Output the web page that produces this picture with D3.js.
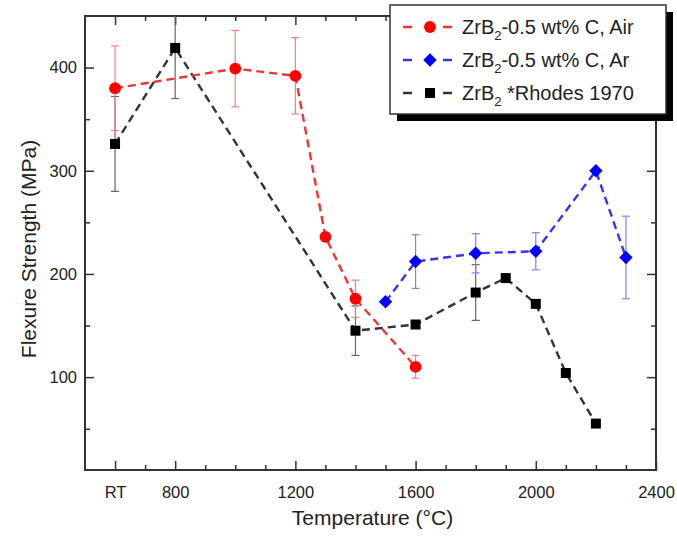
<!DOCTYPE html>
<html>
<head>
<meta charset="utf-8">
<script src="https://cdn.jsdelivr.net/npm/d3@7"></script>
<style>
  body { margin: 0; background: #fff; }
  text { font-family: "Liberation Sans", Arial, sans-serif; fill: #222; }
</style>
</head>
<body>
<script>
// data (RT plotted at 600)
const tempAir = [600, 1000, 1200, 1300, 1400, 1600];
const strAir = [380, 399, 392, 236, 176, 110];
const errAir = [41, 37, 37, 0, 18, 11];

const tempAr = [1500, 1600, 1800, 2000, 2200, 2300];
const strAr = [173, 212, 220, 222, 300, 216];
const errAr = [0, 26, 19, 18, 0, 40];

const tempRh = [600, 800, 1400, 1600, 1800, 1900, 2000, 2100, 2200];
const strRh = [326, 419, 145, 151, 182, 196, 171, 104, 55];
const errRh = [46, 49, 24, 0, 27, 0, 0, 0, 0];

const xMajor = [600, 800, 1200, 1600, 2000, 2400];
const xMinor = [700, 900, 1000, 1100, 1300, 1400, 1500, 1700, 1800, 1900, 2100, 2200, 2300];
const yMajor = [100, 200, 300, 400];
const yMinor = [50, 150, 250, 350];

const width = 677;
const height = 537;
const pLeft = 85, pRight = 656, pTop = 16, pBottom = 470;

const x = d3.scaleLinear().domain([500, 2400]).range([pLeft, pRight]);
const y = d3.scaleLinear().domain([10, 450]).range([pBottom, pTop]);

const svg = d3.select("body").append("svg")
    .attr("width", width)
    .attr("height", height);

svg.append("clipPath").attr("id", "plot")
  .append("rect")
    .attr("x", pLeft).attr("y", pTop)
    .attr("width", pRight - pLeft).attr("height", pBottom - pTop);

// axes: ticks point inward on all four sides
function styleAxis(g) {
    g.select(".domain").remove();
    g.selectAll(".tick line").attr("stroke", "#333").attr("stroke-width", 1.5);
    g.selectAll(".tick text").style("font-size", "16.5px").attr("fill", "#222");
}

svg.append("g")
    .attr("transform", "translate(0," + pBottom + ")")
    .call(d3.axisBottom(x).tickValues(xMajor).tickSizeInner(-9).tickSizeOuter(0).tickPadding(16)
        .tickFormat(d => d === 600 ? "RT" : d))
    .call(styleAxis);
svg.append("g")
    .attr("transform", "translate(0," + pBottom + ")")
    .call(d3.axisBottom(x).tickValues(xMinor).tickSize(-5).tickFormat(""))
    .call(styleAxis);
svg.append("g")
    .attr("transform", "translate(0," + pTop + ")")
    .call(d3.axisTop(x).tickValues(xMajor).tickSize(-9).tickFormat(""))
    .call(styleAxis);
svg.append("g")
    .attr("transform", "translate(0," + pTop + ")")
    .call(d3.axisTop(x).tickValues(xMinor).tickSize(-5).tickFormat(""))
    .call(styleAxis);

svg.append("g")
    .attr("transform", "translate(" + pLeft + ",0)")
    .call(d3.axisLeft(y).tickValues(yMajor).tickSizeInner(-9).tickSizeOuter(0).tickPadding(8))
    .call(styleAxis);
svg.append("g")
    .attr("transform", "translate(" + pLeft + ",0)")
    .call(d3.axisLeft(y).tickValues(yMinor).tickSize(-5).tickFormat(""))
    .call(styleAxis);
svg.append("g")
    .attr("transform", "translate(" + pRight + ",0)")
    .call(d3.axisRight(y).tickValues(yMajor).tickSize(-9).tickFormat(""))
    .call(styleAxis);
svg.append("g")
    .attr("transform", "translate(" + pRight + ",0)")
    .call(d3.axisRight(y).tickValues(yMinor).tickSize(-5).tickFormat(""))
    .call(styleAxis);

// frame
svg.append("rect")
    .attr("x", pLeft).attr("y", pTop)
    .attr("width", pRight - pLeft).attr("height", pBottom - pTop)
    .attr("fill", "none")
    .attr("stroke", "#333")
    .attr("stroke-width", 2);

// axis titles
svg.append("text")
    .attr("x", (pLeft + pRight) / 2 + 2)
    .attr("y", 525)
    .attr("text-anchor", "middle")
    .style("font-size", "21px")
    .text("Temperature (°C)");

svg.append("text")
    .attr("transform", "translate(36," + ((pTop + pBottom) / 2 + 6) + ") rotate(-90)")
    .attr("text-anchor", "middle")
    .style("font-size", "21px")
    .text("Flexure Strength (MPa)");

// series (diamond = square turned 45 degrees)
const series = [
    { t: tempRh, v: strRh, e: errRh, line: "#333", bar: "#666", fill: "#000", shape: d3.symbolSquare, size: 100, rot: 0 },
    { t: tempAir, v: strAir, e: errAir, line: "#f03535", bar: "#f08080", fill: "#ff0000", shape: d3.symbolCircle, size: 110, rot: 0 },
    { t: tempAr, v: strAr, e: errAr, line: "#3535f0", bar: "#8080f0", fill: "#0000ff", shape: d3.symbolSquare, size: 90, rot: 45 }
];

const plot = svg.append("g").attr("clip-path", "url(#plot)");

series.forEach(s => {
    const pts = s.t.map((t, i) => ({ t: t, v: s.v[i], e: s.e[i] }));
    const g = plot.append("g");

    g.append("path")
        .datum(pts)
        .attr("fill", "none")
        .attr("stroke", s.line)
        .attr("stroke-width", 2.4)
        .attr("stroke-dasharray", "8,5")
        .attr("d", d3.line().x(d => x(d.t)).y(d => y(d.v)));

    const bars = g.selectAll(".err")
        .data(pts.filter(d => d.e > 0))
        .enter().append("g")
        .attr("stroke", s.bar)
        .attr("stroke-width", 1.2);
    bars.append("line")
        .attr("x1", d => x(d.t)).attr("x2", d => x(d.t))
        .attr("y1", d => y(d.v - d.e)).attr("y2", d => y(d.v + d.e));
    bars.append("line")
        .attr("x1", d => x(d.t) - 4).attr("x2", d => x(d.t) + 4)
        .attr("y1", d => y(d.v + d.e)).attr("y2", d => y(d.v + d.e));
    bars.append("line")
        .attr("x1", d => x(d.t) - 4).attr("x2", d => x(d.t) + 4)
        .attr("y1", d => y(d.v - d.e)).attr("y2", d => y(d.v - d.e));

    g.selectAll(".mark")
        .data(pts)
        .enter().append("path")
        .attr("transform", d => "translate(" + x(d.t) + "," + y(d.v) + ") rotate(" + s.rot + ")")
        .attr("d", d3.symbol().type(s.shape).size(s.size))
        .attr("fill", s.fill);
});

// legend
const legendItems = [
    { label: ["ZrB", "2", "-0.5 wt% C, Air"], s: series[1] },
    { label: ["ZrB", "2", "-0.5 wt% C, Ar"], s: series[2] },
    { label: ["ZrB", "2", " *Rhodes 1970"], s: series[0] }
];

const legend = svg.append("g");
legend.append("rect")
    .attr("x", 397).attr("y", 12)
    .attr("width", 276).attr("height", 109)
    .attr("fill", "#000");
legend.append("rect")
    .attr("x", 390).attr("y", 5)
    .attr("width", 276).attr("height", 109)
    .attr("fill", "#fff")
    .attr("stroke", "#333")
    .attr("stroke-width", 1.5);

legendItems.forEach((it, i) => {
    const cy = 27 + i * 33;
    legend.append("line")
        .attr("x1", 403).attr("x2", 452)
        .attr("y1", cy).attr("y2", cy)
        .attr("stroke", it.s.line)
        .attr("stroke-width", 2.4)
        .attr("stroke-dasharray", "9,31");
    legend.append("path")
        .attr("transform", "translate(430," + cy + ") rotate(" + it.s.rot + ")")
        .attr("d", d3.symbol().type(it.s.shape).size(it.s.size))
        .attr("fill", it.s.fill);
    const txt = legend.append("text")
        .attr("x", 462)
        .attr("y", cy + 7)
        .style("font-size", "20px");
    txt.append("tspan").text(it.label[0]);
    txt.append("tspan").attr("dy", 6).style("font-size", "13px").text(it.label[1]);
    txt.append("tspan").attr("dy", -6).text(it.label[2]);
});
</script>
</body>
</html>
